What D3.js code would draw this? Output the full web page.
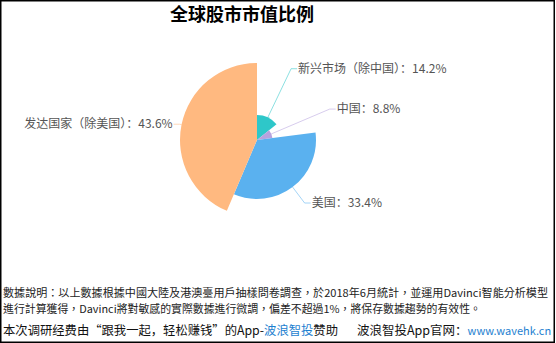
<!DOCTYPE html>
<meta charset="utf-8">
<script src="https://d3js.org/d3.v7.min.js"></script>
<style>
  body { margin: 0; background: #fff; }
  text { font-family: "Noto Sans CJK SC", "Noto Sans", sans-serif; }
</style>
<div id="my_dataviz"></div>
<script>

// data
var categories = ["新兴市场（除中国）", "中国", "美国", "发达国家（除美国）"];
var values = [14.2, 8.8, 33.4, 43.6];
var colors = ["#2ec7c9", "#b6a2de", "#5ab1ef", "#ffb980"];
var title = "全球股市市值比例";
var note1 = "數據說明：以上數據根據中國大陸及港澳臺用戶抽樣問卷調查，於2018年6月統計，並運用Davinci智能分析模型";
var note2 = "進行計算獲得，Davinci將對敏感的實際數據進行微調，偏差不超過1%，將保存數據趨勢的有效性。";

var width = 556, height = 343;
var cx = 257, cy = 140, rMax = 77;

var svg = d3.select("#my_dataviz")
  .append("svg")
    .attr("width", width)
    .attr("height", height);

// frame
svg.append("rect")
  .attr("x", 0.75).attr("y", 0.75)
  .attr("width", width - 2.5).attr("height", height - 1.5)
  .attr("fill", "none")
  .attr("stroke", "#000")
  .attr("stroke-width", 1.5);

// title
svg.append("text")
  .attr("x", 242).attr("y", 21)
  .attr("text-anchor", "middle")
  .style("font-size", "18px")
  .style("font-weight", "bold")
  .style("fill", "#000")
  .text(title);

// rose pie: angle and radius both follow the value
var pie = d3.pie().sort(null).value(function(d) { return d; });
var arcs = pie(values);
var rScale = d3.scaleLinear().domain([0, d3.max(values)]).range([0, rMax]);

var g = svg.append("g").attr("transform", "translate(" + cx + "," + cy + ")");

g.selectAll("path")
  .data(arcs)
  .enter()
  .append("path")
    .attr("d", function(d) {
      return d3.arc().innerRadius(0).outerRadius(rScale(d.data))(d);
    })
    .style("fill", function(d, i) { return colors[i]; });

// labels with leader lines
function pt(a, r) { return [Math.sin(a) * r, -Math.cos(a) * r]; }

arcs.forEach(function(d, i) {
  var mid = (d.startAngle + d.endAngle) / 2;
  var p0 = pt(mid, rScale(d.data));
  var p1 = pt(mid, rMax + 2);
  var right = Math.sin(mid) >= 0;
  var p2 = [p1[0] + (right ? 6 : -6), p1[1]];
  g.append("polyline")
    .attr("points", [p0, p1, p2].map(function(p) { return p.join(","); }).join(" "))
    .attr("fill", "none")
    .attr("stroke", colors[i])
    .attr("stroke-opacity", 0.55)
    .attr("stroke-width", 1);
  g.append("text")
    .attr("x", p2[0] + (right ? 1 : -1))
    .attr("y", p2[1])
    .attr("dy", "0.35em")
    .attr("text-anchor", right ? "start" : "end")
    .style("font-size", "12px")
    .style("fill", "#555")
    .text(categories[i] + "：" + values[i] + "%");
});

// notes
svg.append("text")
  .attr("x", 3).attr("y", 297)
  .attr("textLength", 545).attr("lengthAdjust", "spacingAndGlyphs")
  .style("font-family", "'Noto Sans CJK TC', sans-serif")
  .style("font-size", "10.8px")
  .style("fill", "#222")
  .text(note1);
svg.append("text")
  .attr("x", 3).attr("y", 313)
  .attr("textLength", 478).attr("lengthAdjust", "spacingAndGlyphs")
  .style("font-family", "'Noto Sans CJK TC', sans-serif")
  .style("font-size", "10.8px")
  .style("fill", "#222")
  .text(note2);

var foot = svg.append("text")
  .attr("x", 3).attr("y", 335)
  .attr("textLength", 335).attr("lengthAdjust", "spacingAndGlyphs")
  .style("font-size", "12.5px")
  .style("fill", "#111");
foot.append("tspan").text("本次调研经费由“跟我一起，轻松赚钱”的App-");
foot.append("tspan").style("fill", "#1e7fd0").text("波浪智投");
foot.append("tspan").text("赞助");

var foot2 = svg.append("text")
  .attr("x", 357).attr("y", 335)
  .style("font-size", "12.5px")
  .style("fill", "#111");
foot2.append("tspan").text("波浪智投App官网：");
foot2.append("tspan").style("fill", "#1e7fd0").style("font-size", "11px").text("www.wavehk.cn");

</script>
